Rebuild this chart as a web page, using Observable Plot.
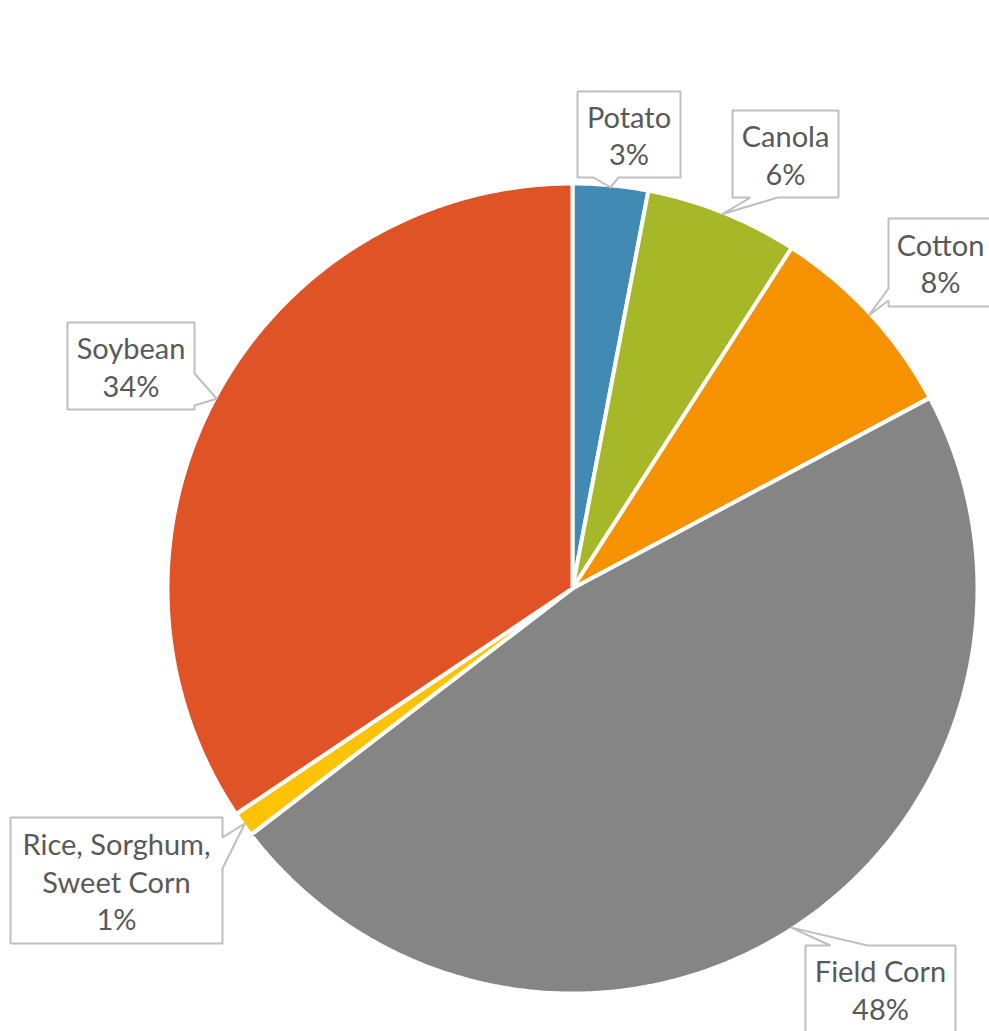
<!DOCTYPE html>
<html>
<head>
<meta charset="utf-8">
<script src="https://cdn.jsdelivr.net/npm/d3@7"></script>
<script src="https://cdn.jsdelivr.net/npm/@observablehq/plot@0.6"></script>
<style>
  html, body { margin: 0; padding: 0; background: #fff; overflow: hidden; }
</style>
</head>
<body>
<div id="chart"></div>
<script>
// ---- data ----
const categories = ["Potato", "Canola", "Cotton", "Field Corn", "Rice, Sorghum,\nSweet Corn", "Soybean"];
const shares = [3.0, 6.1, 8.1, 47.4, 1.0, 34.4];
const pctLabels = ["3%", "6%", "8%", "48%", "1%", "34%"];
const colors = ["#418AB3", "#A6B727", "#F69200", "#858585", "#FEC306", "#DF5327"];

// ---- layout (pixel offsets from pie centre, y downward) ----
const W = 989, H = 1031, CX = 572, CY = 588, R = 405;
const callouts = [
  {box: [5, -497, 108, -411], side: "bottom", base: [21, 46]},
  {box: [160, -478, 266, -391], side: "bottom", base: [178, 205]},
  {box: [316, -370, 420, -282], side: "left", base: [-300, -288]},
  {box: [233, 357, 383, 444], side: "top", base: [258, 295]},
  {box: [-562, 229, -350, 355], side: "right", base: [249, 280]},
  {box: [-505, -266, -378, -179], side: "right", base: [-215, -183]}
];

// slice angles (clockwise from top)
const total = d3.sum(shares);
let acc = 0;
const slices = categories.map((name, i) => {
  const a0 = acc / total * 2 * Math.PI;
  acc += shares[i];
  const a1 = acc / total * 2 * Math.PI;
  return {name, a0, a1, mid: (a0 + a1) / 2, color: colors[i], i};
});

const slicePts = [];
for (const s of slices) {
  slicePts.push({name: s.name, color: s.color, x: 0, y: 0});
  const n = Math.max(2, Math.ceil((s.a1 - s.a0) / (Math.PI / 360)));
  for (let k = 0; k <= n; k++) {
    const a = s.a0 + (s.a1 - s.a0) * k / n;
    slicePts.push({name: s.name, color: s.color, x: R * Math.sin(a), y: -R * Math.cos(a)});
  }
}

const calloutPts = [];
const labelData = [];
slices.forEach((s, i) => {
  const c = callouts[i];
  const [l, t, r, b] = c.box;
  const tip = [R * 0.995 * Math.sin(s.mid), -R * 0.995 * Math.cos(s.mid)];
  let pts;
  if (c.side === "top") pts = [[l, t], [c.base[0], t], tip, [c.base[1], t], [r, t], [r, b], [l, b]];
  else if (c.side === "right") pts = [[l, t], [r, t], [r, c.base[0]], tip, [r, c.base[1]], [r, b], [l, b]];
  else if (c.side === "bottom") pts = [[l, t], [r, t], [r, b], [c.base[1], b], tip, [c.base[0], b], [l, b]];
  else pts = [[l, t], [r, t], [r, b], [l, b], [l, c.base[1]], tip, [l, c.base[0]]];
  pts.forEach(p => calloutPts.push({name: s.name, x: p[0], y: p[1]}));
  labelData.push({x: (l + r) / 2, y: (t + b) / 2, text: s.name + "\n" + pctLabels[i]});
});

const chart = Plot.plot({
  width: W,
  height: H,
  margin: 0,
  x: {domain: [-CX, W - CX], range: [0, W], axis: null},
  y: {domain: [-CY, H - CY], range: [0, H], axis: null},
  color: {type: "identity"},
  style: {fontFamily: "Lato, 'Open Sans', sans-serif", background: "#fff"},
  marks: [
    Plot.line(slicePts, {x: "x", y: "y", z: "name", fill: "color", stroke: "white", strokeWidth: 4, curve: "linear-closed", strokeLinejoin: "miter"}),
    Plot.line(calloutPts, {x: "x", y: "y", z: "name", fill: "white", stroke: "#BFBFBF", strokeWidth: 2, curve: "linear-closed", strokeLinejoin: "miter"}),
    Plot.text(labelData, {x: "x", y: "y", text: "text", fontSize: 29, lineHeight: 1.3, fill: "#595959", textAnchor: "middle"})
  ]
});
document.getElementById("chart").appendChild(chart);
</script>
</body>
</html>
